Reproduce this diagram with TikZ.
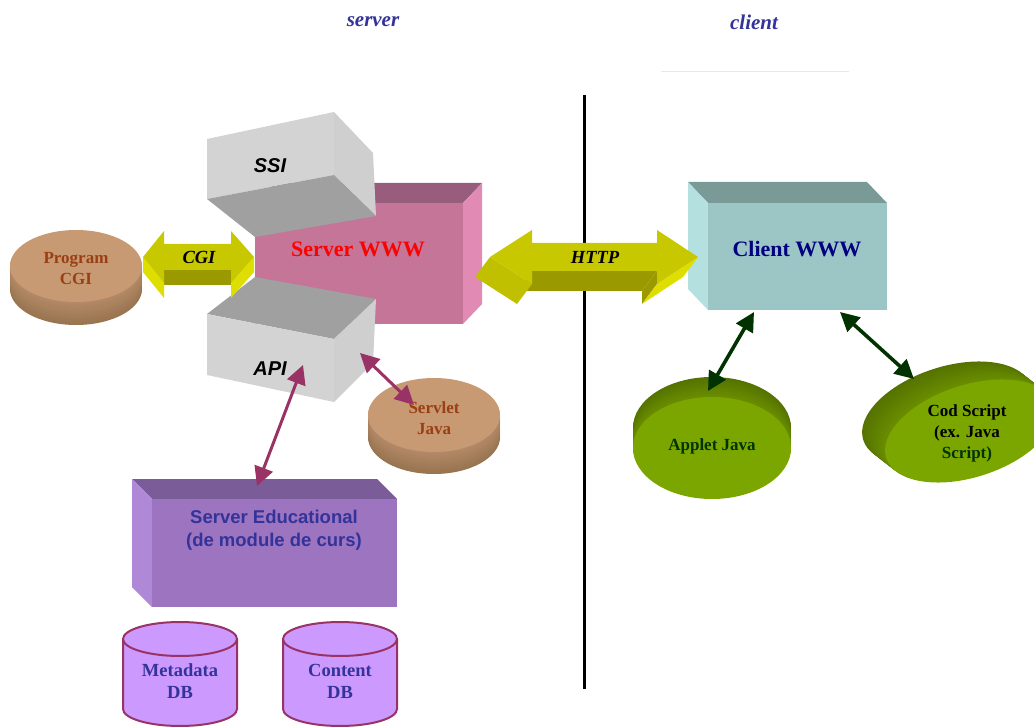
\documentclass[tikz,border=0pt]{standalone}
\usepackage{fontspec}
\setmainfont{Liberation Serif}
\newfontfamily\sansfam{Liberation Sans}
\usetikzlibrary{arrows.meta}

% palette
\definecolor{pinkfront}{HTML}{C47598}
\definecolor{pinktop}{HTML}{985C7C}
\definecolor{pinkside}{HTML}{E08AB4}
\definecolor{graylt}{HTML}{D3D3D3}
\definecolor{grayside}{HTML}{CFCFCF}
\definecolor{graydk}{HTML}{A0A0A0}
\definecolor{cyanfront}{HTML}{9CC6C6}
\definecolor{cyantop}{HTML}{7A9A98}
\definecolor{cyanside}{HTML}{B4E0E0}
\definecolor{purfront}{HTML}{9C74C0}
\definecolor{purtop}{HTML}{7A5C98}
\definecolor{purside}{HTML}{B088D8}
\definecolor{dbfill}{HTML}{CC99FF}
\definecolor{dbline}{HTML}{993366}
\definecolor{navy}{HTML}{333399}
\definecolor{navydeep}{HTML}{000080}
\definecolor{arrtop}{HTML}{C8C800}
\definecolor{arrdark}{HTML}{9A9A00}
\definecolor{arrmid}{HTML}{C0C000}
\definecolor{arrlight}{HTML}{DEDE00}
\definecolor{tantop}{HTML}{C89A74}
\definecolor{tanside}{HTML}{B48A68}
\definecolor{tandark}{HTML}{98744F}
\definecolor{tantext}{HTML}{993F14}
\definecolor{greenface}{HTML}{7BA600}
\definecolor{greenside}{HTML}{6A8E00}
\definecolor{greendark}{HTML}{557200}
\definecolor{linkmag}{HTML}{993366}
\definecolor{linkgreen}{HTML}{003300}

\tikzset{
  titlelabel/.style={text=navy, font=\bfseries\itshape\fontsize{21}{24}\selectfont},
  boxlabel/.style={font=\bfseries\fontsize{22}{25}\selectfont},
  tiltlabel/.style={font=\sansfam\bfseries\itshape\fontsize{20}{23}\selectfont},
  arrowlabel/.style={font=\bfseries\itshape\fontsize{18.5}{21}\selectfont},
  disclabel/.style={align=center, font=\bfseries\fontsize{17}{21}\selectfont},
  dblabel/.style={align=center, text=navy, font=\bfseries\fontsize{18.5}{22}\selectfont},
  edulabel/.style={align=center, text=navy, font=\sansfam\bfseries\fontsize{18.5}{23}\selectfont},
  twohead/.style={
    {Triangle[length=19pt,width=19pt]}-{Triangle[length=19pt,width=19pt]}},
  maglink/.style={twohead, line width=3pt, draw=linkmag, fill=linkmag},
  greenlink/.style={twohead, line width=3.6pt, draw=linkgreen, fill=linkgreen},
  dbcyl/.style={fill=dbfill, draw=dbline, line width=2pt},
}

\begin{document}
\begin{tikzpicture}[x=1pt,y=-1pt]
\useasboundingbox (0,0) rectangle (1034,727);
\clip (0,0) rectangle (1034,727);

% headings and separators
\node[titlelabel] (srvttl) at (373,22) {server};
\node[titlelabel] (clittl) at (754,22) {client};
\draw[black!9, line width=1pt] (661,72) -- (849,72);
\draw[line width=3pt] (584,95) -- (584,689);

% Server WWW box
\fill[pinkfront] (255,203) -- (463,203) -- (463,324) -- (255,324) -- cycle;
\fill[pinktop] (274,183) -- (482,183) -- (463,203) -- (255,203) -- cycle;
\fill[pinkside] (463,203) -- (482,183) -- (482,304) -- (463,324) -- cycle;
\node[boxlabel, text=red] (srvwww) at (358,249) {Server WWW};

% SSI block
\fill[graylt] (207,139) -- (334,112) -- (334,175) -- (207,199) -- cycle;
\fill[grayside] (334,112) -- (373,153) -- (376,216) -- (334,175) -- cycle;
\fill[graydk] (207,199) -- (334,175) -- (376,216) -- (255,237) -- cycle;
\node[tiltlabel] (ssi) at (270,166) {SSI};

% API block
\fill[graydk] (207,314) -- (255,277) -- (376,299) -- (334,339) -- cycle;
\fill[graylt] (207,314) -- (334,339) -- (334,402) -- (207,375) -- cycle;
\fill[grayside] (334,339) -- (376,299) -- (373,363) -- (334,402) -- cycle;
\node[tiltlabel] (api) at (270,369) {API};

% Client WWW box
\fill[cyantop] (688,182) -- (867,182) -- (887,203) -- (708,203) -- cycle;
\fill[cyanside] (688,182) -- (708,203) -- (708,310) -- (688,289) -- cycle;
\fill[cyanfront] (708,203) -- (887,203) -- (887,310) -- (708,310) -- cycle;
\node[boxlabel, text=navydeep] (cliwww) at (797,249) {Client WWW};

% CGI block arrow
\fill[arrdark] (164,270) -- (231,270) -- (231,285) -- (164,285) -- cycle;
\fill[arrlight] (143,257) -- (164,283) -- (164,298) -- (143,272) -- cycle;
\fill[arrlight] (231,283) -- (254,257) -- (254,272) -- (231,298) -- cycle;
\fill[arrtop] (143,257) -- (164,231) -- (164,244) -- (231,244) -- (231,231)
  -- (254,257) -- (231,283) -- (231,270) -- (164,270) -- (164,283) -- cycle;
\node[arrowlabel] (cgi) at (199,257) {CGI};

% HTTP block arrow
\fill[arrdark] (532,271) -- (657,271) -- (642,291) -- (517,291) -- cycle;
\fill[arrdark] (657,271) -- (657,284) -- (642,304) -- (642,291) -- cycle;
\fill[arrmid] (490,257) -- (532,284) -- (517,304) -- (475,277) -- cycle;
\fill[arrlight] (657,284) -- (698,257) -- (683,277) -- (642,304) -- cycle;
\fill[arrtop] (490,257) -- (532,230) -- (532,243) -- (657,243) -- (657,230)
  -- (698,257) -- (657,284) -- (657,271) -- (532,271) -- (532,284) -- cycle;
\node[arrowlabel] (http) at (595,257) {HTTP};

% Program CGI disc
\foreach \t [evaluate=\t as \p using int(100*\t/23)] in {23,22,...,1}
  \fill[tandark!\p!tanside] (76,266+\t) ellipse [x radius=66, y radius=36];
\fill[tantop] (76,266) ellipse [x radius=66, y radius=36];
\node[disclabel, text=tantext] (progcgi) at (76,269) {Program\\CGI};

% Servlet Java disc
\foreach \t [evaluate=\t as \p using int(100*\t/22)] in {22,21,...,1}
  \fill[tandark!\p!tanside] (434,415+\t) ellipse [x radius=66, y radius=37];
\fill[tantop] (434,415) ellipse [x radius=66, y radius=37];
\node[disclabel, text=tantext] (servlet) at (434,418) {Servlet\\Java};

% Applet Java disc
\foreach \t [evaluate=\t as \p using int(100*\t/20)] in {20,19,...,1}
  \fill[greendark!\p!greenside] (712,448-\t) ellipse [x radius=79, y radius=51];
\fill[greenface] (712,448) ellipse [x radius=79, y radius=51];
\node[disclabel, text=linkgreen] (applet) at (712,446) {Applet Java};

% Cod Script disc
\foreach \t [evaluate=\t as \p using int(100*\t/20)] in {20,19,...,1}
  \fill[greendark!\p!greenside, shift={(970-1.15*\t,431-0.9*\t)}, rotate=18]
    (0,0) ellipse [x radius=88, y radius=46];
\fill[greenface, shift={(970,431)}, rotate=18] (0,0) ellipse [x radius=88, y radius=46];
\node[disclabel, text=black] (codscr) at (967,433)
  {Cod Script\\(ex. Java\\\textcolor{linkgreen}{Script)}};

% Server Educational box
\fill[purtop] (132,479) -- (377,479) -- (397,499) -- (152,499) -- cycle;
\fill[purside] (132,479) -- (152,499) -- (152,607) -- (132,587) -- cycle;
\fill[purfront] (152,499) -- (397,499) -- (397,607) -- (152,607) -- cycle;
\node[edulabel] (edu) at (274,530) {Server Educational\\(de module de curs)};

% databases
\filldraw[dbcyl] (123,639) -- (123,709)
  arc[start angle=180, end angle=0, x radius=57, y radius=17] -- (237,639);
\filldraw[dbcyl] (180,639) ellipse [x radius=57, y radius=17];
\node[dblabel] (metadb) at (180,681) {Metadata\\DB};

\filldraw[dbcyl] (283,639) -- (283,709)
  arc[start angle=180, end angle=0, x radius=57, y radius=17] -- (397,639);
\filldraw[dbcyl] (340,639) ellipse [x radius=57, y radius=17];
\node[dblabel] (contdb) at (340,681) {Content\\DB};

% link end points
\coordinate (apiEnd) at (303,365);
\coordinate (eduEnd) at (257,486);
\coordinate (srvEnd) at (360,353);
\coordinate (sjEnd) at (414,405);
\coordinate (cliL) at (754,312);
\coordinate (appEnd) at (708,391);
\coordinate (cliR) at (840,312);
\coordinate (codEnd) at (914,379);

% links
\draw[maglink] (eduEnd) -- (apiEnd);
\draw[maglink] (srvEnd) -- (sjEnd);
\draw[greenlink] (cliL) -- (appEnd);
\draw[greenlink] (cliR) -- (codEnd);
\end{tikzpicture}
\end{document}
